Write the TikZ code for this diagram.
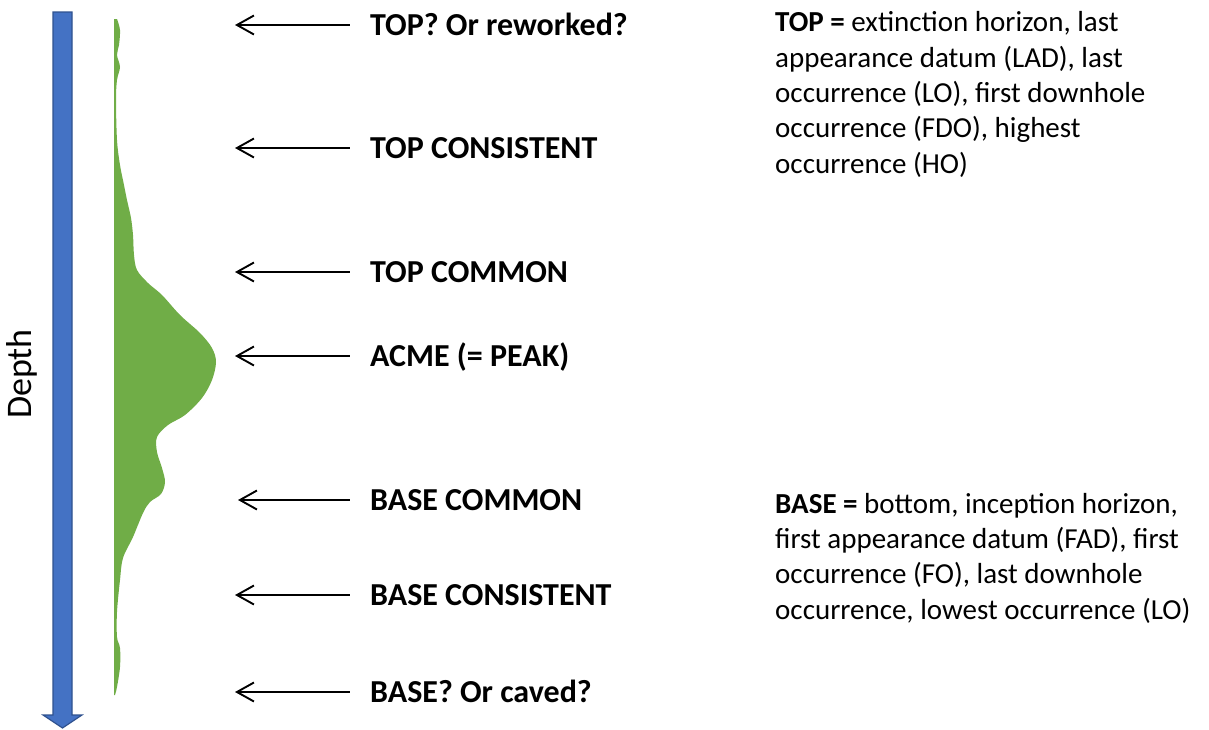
\documentclass[tikz,border=0pt]{standalone}
\usepackage{fontspec}
\setmainfont{Carlito}
\usepackage{tikz}
\usetikzlibrary{positioning, arrows.meta}
\definecolor{barblue}{HTML}{4472C4}
\definecolor{baredge}{HTML}{2F528F}
\definecolor{fossil}{HTML}{70AD47}

\begin{document}
\begin{tikzpicture}[x=1pt, y=-1pt,
    level/.style={font=\fontsize{32}{38}\selectfont\bfseries, anchor=west,
                  inner sep=0pt, text height=20.6pt, text depth=0pt},
    desc/.style={font=\fontsize{29}{35.3}\selectfont, anchor=base west,
                 align=left, inner sep=0pt},
    pointer/.style={{Straight Barb[length=17pt, width=19pt]}-, line width=1.9pt}]
  \useasboundingbox (0,0) rectangle (1209,729);

  % depth axis
  \filldraw[fill=barblue, draw=baredge, line width=1.2pt]
    (53,12) -- (72,12) -- (72,715) -- (82,715) -- (62.5,728) -- (43,715) -- (53,715) -- cycle;
  \node[rotate=90, font=\fontsize{36}{40}\selectfont] (depth) at (22,374) {Depth};

  % abundance curve
  \fill[fossil] (114,19) -- plot[smooth, tension=0.55] coordinates {
      (117,19) (120,30) (119,45) (117,55) (120,67) (117,80) (116,100)
      (117,140) (120,165) (124,185) (127,200) (131,218) (133,235) (134,255)
      (137,270) (148,283) (162,295) (180,315) (200,333) (212,348) (216,362)
      (212,380) (202,398) (185,415) (168,425) (157,437) (157,452) (162,468)
      (165,482) (161,494) (150,502) (143,513) (133,537) (123,558) (120,580)
      (117,612) (117,637) (120,648) (120,667) (117,687) (115,695)}
    -- (114,695) -- cycle;

  % levels
  \node[level] (topq)  at (370,25)  {TOP? Or reworked?};
  \node[level] (topc)  at (370,148) {TOP CONSISTENT};
  \node[level] (topm)  at (370,272) {TOP COMMON};
  \node[level] (acme)  at (370,356) {ACME (= PEAK)};
  \node[level] (basem) at (370,500) {BASE COMMON};
  \node[level] (basec) at (370,595) {BASE CONSISTENT};
  \node[level] (baseq) at (370,692) {BASE? Or caved?};

  \coordinate (topq-tip)  at (235,25);
  \coordinate (topc-tip)  at (235,148);
  \coordinate (topm-tip)  at (235,272);
  \coordinate (acme-tip)  at (235,356);
  \coordinate (basem-tip) at (238,500);
  \coordinate (basec-tip) at (235,595);
  \coordinate (baseq-tip) at (235,692);

  \draw[pointer] (topq-tip)  -- ([xshift=-20pt]topq.west);
  \draw[pointer] (topc-tip)  -- ([xshift=-20pt]topc.west);
  \draw[pointer] (topm-tip)  -- ([xshift=-20pt]topm.west);
  \draw[pointer] (acme-tip)  -- ([xshift=-20pt]acme.west);
  \draw[pointer] (basem-tip) -- ([xshift=-20pt]basem.west);
  \draw[pointer] (basec-tip) -- ([xshift=-20pt]basec.west);
  \draw[pointer] (baseq-tip) -- ([xshift=-20pt]baseq.west);

  % definitions (base = last line)
  \node[desc] (topdef) at (775,173)
    {\textbf{TOP =} extinction horizon, last\\
     appearance datum (LAD), last\\
     occurrence (LO), first downhole\\
     occurrence (FDO), highest\\
     occurrence (HO)};
  \node[desc] (basedef) at (775,619)
    {\textbf{BASE =} bottom, inception horizon,\\
     first appearance datum (FAD), first\\
     occurrence (FO), last downhole\\
     occurrence, lowest occurrence (LO)};
\end{tikzpicture}
\end{document}
